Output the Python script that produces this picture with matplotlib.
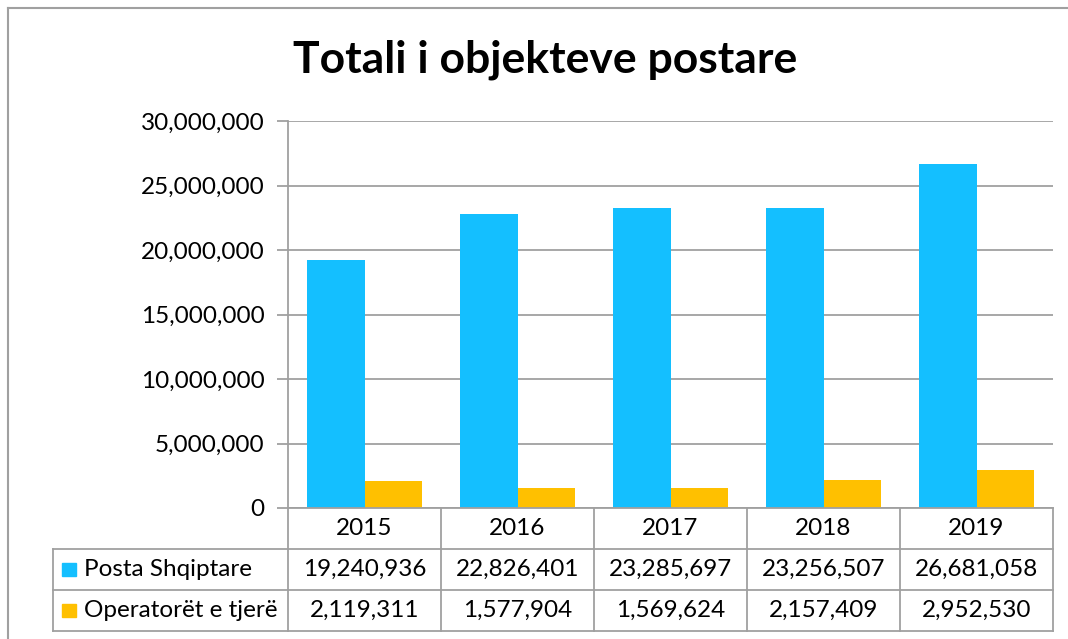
import matplotlib
matplotlib.use('Agg')
from matplotlib import pyplot as plt
from matplotlib.patches import Rectangle
from matplotlib.ticker import FuncFormatter

plt.rcParams['font.family'] = ['Lato', 'DejaVu Sans']

# te dhenat
years = ['2015', '2016', '2017', '2018', '2019']
series_names = ['Posta Shqiptare', 'Operatorët e tjerë']
posta = [19240936, 22826401, 23285697, 23256507, 26681058]
operatoret = [2119311, 1577904, 1569624, 2157409, 2952530]
colors = ['#14BFFF', '#FFC000']
grid_c = '#A0A0A0'
fs = 17.5

W, H = 1068, 639
fig = plt.figure(figsize=(W / 100, H / 100), dpi=100)

# kornizat e grafikut
fig.add_artist(plt.Line2D([8 / W, 1], [1 - 8 / H, 1 - 8 / H], color=grid_c, lw=1.5))
fig.add_artist(plt.Line2D([8 / W, 8 / W], [0, 1 - 8 / H], color=grid_c, lw=1.5))

fig.text(545 / W, 1 - 60 / H, 'Totali i objekteve postare', ha='center', va='center',
         fontsize=32, fontweight='bold')

ax = fig.add_axes([288 / W, 1 - 508 / H, 765 / W, 387 / H])
x = list(range(len(years)))
bw = 0.375
ax.bar([i - bw / 2 for i in x], posta, bw, color=colors[0], zorder=3)
ax.bar([i + bw / 2 for i in x], operatoret, bw, color=colors[1], zorder=3)
ax.set_xlim(-0.5, len(years) - 0.5)
ax.set_ylim(0, 30000000)
ax.set_yticks(range(0, 30000001, 5000000))
ax.yaxis.set_major_formatter(FuncFormatter(lambda v, p: '{:,.0f}'.format(v)))
ax.grid(axis='y', color=grid_c, lw=1.3, zorder=0)
ax.set_xticks([])
for s in ['top', 'right', 'bottom']:
    ax.spines[s].set_visible(False)
ax.spines['left'].set_color(grid_c)
ax.spines['left'].set_linewidth(1.3)
ax.tick_params(axis='y', length=8, width=1.3, color=grid_c, labelsize=fs, pad=9)

# tabela e te dhenave
lab_w = 235 / 153
tx = fig.add_axes([53 / W, 8 / H, 1000 / W, 123 / H])
tx.set_xlim(-0.5 - lab_w, len(years) - 0.5)
tx.set_ylim(0, 3)
tx.axis('off')
lk = dict(color=grid_c, lw=1.3, clip_on=False)
tx.plot([-0.5, len(years) - 0.5], [3, 3], **lk)
for yy in [0, 1, 2]:
    tx.plot([-0.5 - lab_w, len(years) - 0.5], [yy, yy], **lk)
tx.plot([-0.5 - lab_w, -0.5 - lab_w], [0, 2], **lk)
for i in range(len(years) + 1):
    tx.plot([i - 0.5, i - 0.5], [0, 3], **lk)
for i, yr in enumerate(years):
    tx.text(i, 2.5, yr, ha='center', va='center', fontsize=fs)
rows = [posta, operatoret]
for r, vals in enumerate(rows):
    yc = 1.5 - r
    for i, v in enumerate(vals):
        tx.text(i, yc, '{:,}'.format(v), ha='center', va='center', fontsize=fs)
    sq = 14 / 153
    tx.add_patch(Rectangle((-0.5 - lab_w + 9 / 153, yc - 0.17), sq, 0.34,
                           color=colors[r], clip_on=False))
    tx.text(-0.5 - lab_w + 31 / 153, yc, series_names[r], ha='left', va='center', fontsize=fs)

fig.savefig('out.png', dpi=100)
